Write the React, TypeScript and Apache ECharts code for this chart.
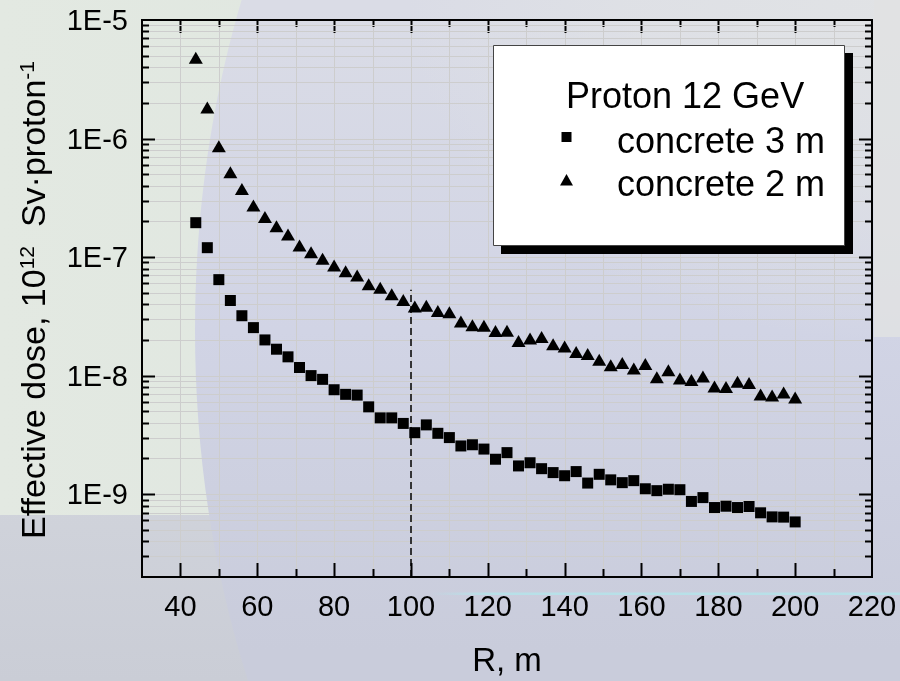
import React, { useEffect, useRef } from 'react';
import * as echarts from 'echarts';

// Distance from the source, m
const distances = [
  44, 47, 50, 53, 56, 59, 62, 65, 68, 71, 74, 77, 80, 83, 86, 89, 92, 95, 98,
  101, 104, 107, 110, 113, 116, 119, 122, 125, 128, 131, 134, 137, 140, 143,
  146, 149, 152, 155, 158, 161, 164, 167, 170, 173, 176, 179, 182, 185, 188,
  191, 194, 197, 200,
];

// Effective dose behind 3 m of concrete
const dose3m = [
  1.95e-7, 1.2e-7, 6.45e-8, 4.3e-8, 3.2e-8, 2.54e-8, 2.0e-8, 1.67e-8, 1.44e-8,
  1.17e-8, 1.0e-8, 9.3e-9, 7.6e-9, 6.95e-9, 6.85e-9, 5.45e-9, 4.4e-9, 4.4e-9,
  3.95e-9, 3.3e-9, 3.84e-9, 3.26e-9, 3.0e-9, 2.55e-9, 2.61e-9, 2.4e-9, 1.97e-9,
  2.24e-9, 1.73e-9, 1.84e-9, 1.64e-9, 1.52e-9, 1.43e-9, 1.55e-9, 1.24e-9,
  1.47e-9, 1.32e-9, 1.25e-9, 1.3e-9, 1.11e-9, 1.07e-9, 1.1e-9, 1.09e-9,
  8.68e-10, 9.35e-10, 7.71e-10, 7.91e-10, 7.71e-10, 7.87e-10, 6.96e-10,
  6.43e-10, 6.4e-10, 5.83e-10,
];

// Effective dose behind 2 m of concrete
const dose2m = [
  4.8e-6, 1.83e-6, 8.6e-7, 5.2e-7, 3.75e-7, 2.72e-7, 2.18e-7, 1.82e-7, 1.55e-7,
  1.25e-7, 1.1e-7, 9.7e-8, 8.5e-8, 7.6e-8, 7.0e-8, 5.9e-8, 5.5e-8, 4.85e-8,
  4.35e-8, 3.83e-8, 3.89e-8, 3.51e-8, 3.43e-8, 2.86e-8, 2.66e-8, 2.63e-8,
  2.38e-8, 2.39e-8, 1.96e-8, 2.06e-8, 2.12e-8, 1.84e-8, 1.76e-8, 1.58e-8,
  1.52e-8, 1.36e-8, 1.22e-8, 1.28e-8, 1.15e-8, 1.25e-8, 9.7e-9, 1.11e-8,
  9.47e-9, 9.18e-9, 9.84e-9, 8.11e-9, 8.01e-9, 8.89e-9, 8.67e-9, 6.93e-9,
  6.81e-9, 7.22e-9, 6.54e-9,
];

const seriesNames = ['concrete 3 m', 'concrete 2 m'];
const legendTitle = 'Proton 12 GeV';

// Axis ranges and ticks
const xMin = 30;
const xMax = 220;
const xLabelValues = [40, 60, 80, 100, 120, 140, 160, 180, 200, 220];
const xMajorTicks = [40, 60, 80, 100, 120, 140, 160, 180, 200];
const xMinorTicks = [50, 70, 90, 110, 130, 150, 170, 190, 210];
const yMin = 2e-10;
const yMax = 1e-5;
const yDecades = [1e-9, 1e-8, 1e-7, 1e-6];
const yMinorMultipliers = [2, 3, 4, 5, 6, 7, 8, 9];
const yMinorExponents = [-10, -9, -8, -7, -6];

// Dashed marker at R = 100 m
const refR = 100;
const refTop = 5.3e-8;

const FONT = '"Liberation Sans", Arial, Helvetica, sans-serif';
const GRID_COLOR = '#cdcdcd';

// kind: 0 = major x, 1 = minor x, 2 = major y, 3 = minor y
function buildFrameItems(): number[][] {
  const items: number[][] = [];
  xMajorTicks.forEach((v) => items.push([v, 1e-7, 0]));
  xMinorTicks.forEach((v) => items.push([v, 1e-7, 1]));
  yDecades.forEach((v) => items.push([100, v, 2]));
  yMinorExponents.forEach((e) => {
    yMinorMultipliers.forEach((m) => {
      const v = m * Math.pow(10, e);
      if (v > yMin * 1.0001 && v < yMax) items.push([100, v, 3]);
    });
  });
  return items;
}

function renderFrame(params: any, api: any) {
  const cs = params.coordSys;
  const kind = api.value(2);
  const black = { stroke: '#000', lineWidth: 2 };
  if (kind < 2) {
    const px = Math.round(api.coord([api.value(0), 1e-7])[0]) + 0.5;
    const major = kind === 0;
    const bottomLen = major ? 14 : 8;
    const topLen = major ? 13 : 7;
    const bottom = cs.y + cs.height;
    return {
      type: 'group',
      children: [
        { type: 'line', shape: { x1: px, y1: cs.y + 1, x2: px, y2: bottom - 1 }, style: { stroke: GRID_COLOR, lineWidth: 1 } },
        { type: 'line', shape: { x1: px, y1: bottom, x2: px, y2: bottom - bottomLen }, style: black },
        { type: 'line', shape: { x1: px, y1: cs.y, x2: px, y2: cs.y + topLen }, style: black },
      ],
    };
  }
  const py = Math.round(api.coord([100, api.value(1)])[1]) + 0.5;
  const major = kind === 2;
  const len = major ? 13 : 7;
  const right = cs.x + cs.width;
  return {
    type: 'group',
    children: [
      { type: 'line', shape: { x1: cs.x + 1, y1: py, x2: right - 1, y2: py }, style: { stroke: GRID_COLOR, lineWidth: 1 } },
      { type: 'line', shape: { x1: cs.x, y1: py, x2: cs.x + len, y2: py }, style: black },
      { type: 'line', shape: { x1: right, y1: py, x2: right - len, y2: py }, style: black },
    ],
  };
}

function backgroundElements(): any[] {
  const LG = echarts.graphic.LinearGradient;
  const RG = echarts.graphic.RadialGradient;
  return [
    {
      type: 'rect', z: -10, silent: true,
      shape: { x: 0, y: 0, width: 900, height: 681 },
      style: { fill: new LG(0, 0, 0, 1, [
        { offset: 0, color: '#dde0e4' },
        { offset: 0.5, color: '#d5d8df' },
        { offset: 1, color: '#cacdd6' },
      ]) },
    },
    {
      type: 'rect', z: -9, silent: true,
      shape: { x: 0, y: 0, width: 360, height: 515 },
      style: { fill: new LG(0, 0, 1, 0, [
        { offset: 0, color: '#e3e9e2' },
        { offset: 1, color: '#e0e7e0' },
      ]) },
    },
    {
      type: 'ellipse', z: -8, silent: true,
      shape: { cx: 720, cy: 330, rx: 525, ry: 800 },
      style: { fill: new LG(0, 0, 0, 1, [
        { offset: 0.3, color: '#dadce6' },
        { offset: 0.5, color: '#d1d4e5' },
        { offset: 0.7, color: '#c9ccdb' },
      ]) },
    },
    {
      type: 'rect', z: -7, silent: true,
      shape: { x: 380, y: 0, width: 520, height: 360 },
      style: { fill: new RG(1, 0, 0.95, [
        { offset: 0, color: 'rgba(225,227,229,0.95)' },
        { offset: 0.55, color: 'rgba(225,227,229,0.6)' },
        { offset: 1, color: 'rgba(225,227,229,0)' },
      ]) },
    },
    {
      type: 'rect', z: -7, silent: true,
      shape: { x: 874, y: 0, width: 26, height: 337 },
      style: { fill: 'rgba(224,226,227,0.85)' },
    },
    {
      type: 'rect', z: -6, silent: true,
      shape: { x: 430, y: 592.5, width: 470, height: 2.5 },
      style: { fill: new LG(0, 0, 1, 0, [
        { offset: 0, color: 'rgba(184,224,232,0)' },
        { offset: 0.12, color: 'rgba(184,224,232,1)' },
        { offset: 1, color: 'rgba(184,224,232,1)' },
      ]) },
    },
  ];
}

function legendElements(): any[] {
  const textStyle = (text: string) => ({
    text, fill: '#000', fontSize: 36, fontFamily: FONT, align: 'left', verticalAlign: 'middle',
  });
  return [
    { type: 'rect', z: 100, shape: { x: 501, y: 53, width: 352, height: 201 }, style: { fill: '#000' } },
    { type: 'rect', z: 101, shape: { x: 493.5, y: 45.5, width: 351, height: 200 }, style: { fill: '#fff', stroke: '#444', lineWidth: 1 } },
    { type: 'text', z: 102, x: 566, y: 95, style: textStyle(legendTitle) },
    { type: 'rect', z: 102, shape: { x: 561.5, y: 132, width: 10, height: 10 }, style: { fill: '#000' } },
    { type: 'text', z: 102, x: 617, y: 140, style: textStyle(seriesNames[0]) },
    { type: 'polygon', z: 102, shape: { points: [[566.5, 174], [573, 185.5], [560, 185.5]] }, style: { fill: '#000' } },
    { type: 'text', z: 102, x: 617, y: 183, style: textStyle(seriesNames[1]) },
  ];
}

function yTitle(): any {
  return {
    type: 'text', z: 50, x: 33, y: 300, rotation: Math.PI / 2,
    style: {
      text: '{n|Effective dose, 10}{s|12}{n|  Sv·proton}{s|-1}',
      align: 'center', verticalAlign: 'middle',
      rich: {
        n: { fontSize: 34, fontFamily: FONT, fill: '#000' },
        s: { fontSize: 21, fontFamily: FONT, fill: '#000', verticalAlign: 'top' },
      },
    },
  };
}

export default function App() {
  const ref = useRef<HTMLDivElement>(null);

  useEffect(() => {
    if (!ref.current) return;
    const chart = echarts.init(ref.current, null, { renderer: 'svg' });

    const option: any = {
      animation: false,
      grid: {
        left: 142, right: 28, top: 20, bottom: 102,
        show: true, borderColor: '#000', borderWidth: 2, backgroundColor: 'transparent',
      },
      xAxis: {
        type: 'value', min: xMin, max: xMax, interval: 10,
        axisLine: { show: false }, axisTick: { show: false }, splitLine: { show: false },
        axisLabel: {
          showMinLabel: true, showMaxLabel: true,
          formatter: (v: number) => (xLabelValues.includes(v) ? String(v) : ''),
          fontSize: 29, fontFamily: FONT, color: '#000', margin: 14,
        },
        name: 'R, m', nameLocation: 'middle', nameGap: 66,
        nameTextStyle: { fontSize: 33, fontFamily: FONT, color: '#000' },
      },
      yAxis: {
        type: 'log', logBase: 10, min: yMin, max: yMax,
        axisLine: { show: false }, axisTick: { show: false }, splitLine: { show: false },
        minorTick: { show: false },
        axisLabel: {
          showMinLabel: true, showMaxLabel: true,
          formatter: (v: number) => {
            const e = Math.log10(v);
            const r = Math.round(e);
            return Math.abs(e - r) < 1e-6 ? '1E' + r : '';
          },
          fontSize: 29, fontFamily: FONT, color: '#000', margin: 14,
        },
      },
      graphic: { elements: [...backgroundElements(), yTitle(), ...legendElements()] },
      series: [
        {
          type: 'custom', name: 'frame', z: 1, silent: true,
          renderItem: renderFrame,
          encode: { x: 0, y: 1 },
          data: buildFrameItems(),
        },
        {
          type: 'scatter', name: seriesNames[0], z: 5,
          symbol: 'rect', symbolSize: 11,
          itemStyle: { color: '#000', opacity: 1 },
          data: distances.map((r, i) => [r, dose3m[i]]),
          markLine: {
            silent: true, symbol: 'none', label: { show: false },
            lineStyle: { color: '#000', width: 1.5, type: [7, 4], opacity: 1 },
            data: [[{ coord: [refR, yMin] }, { coord: [refR, refTop] }]],
          },
        },
        {
          type: 'scatter', name: seriesNames[1], z: 5,
          symbol: 'triangle', symbolSize: [14, 12],
          itemStyle: { color: '#000', opacity: 1 },
          data: distances.map((r, i) => [r, dose2m[i]]),
        },
      ],
    };

    chart.setOption(option);
    return () => chart.dispose();
  }, []);

  return <div ref={ref} style={{ position: 'fixed', left: 0, top: 0, width: 900, height: 681 }} />;
}
